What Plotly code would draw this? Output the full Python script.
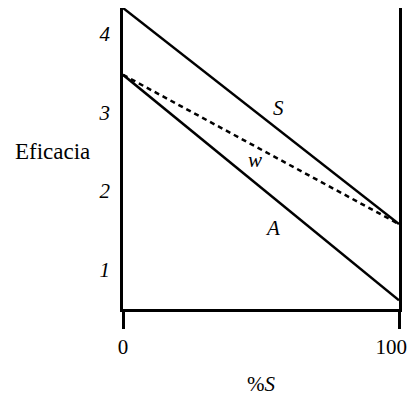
import plotly.graph_objects as go

x_pct = [0, 100]
S_vals = [4.33, 1.58]
A_vals = [3.48, 0.61]
w_vals = [3.48, 1.58]
y_ticks = [1, 2, 3, 4]
y_ticktext = ["1", "2", "3", "4"]
x_ticks = [0, 100]
x_ticktext = ["0", "100"]
curve_labels = ["S", "w", "A"]
label_x = [56.5, 47.8, 54.3]
label_y = [3.06, 2.40, 1.53]

FONT = "Liberation Serif"
fig = go.Figure()
fig.add_trace(go.Scatter(x=x_pct, y=S_vals, mode="lines",
                         line=dict(color="black", width=2.5), showlegend=False))
fig.add_trace(go.Scatter(x=x_pct, y=A_vals, mode="lines",
                         line=dict(color="black", width=2.5), showlegend=False))
fig.add_trace(go.Scatter(x=x_pct, y=w_vals, mode="lines",
                         line=dict(color="black", width=2.5, dash="5px,4px"), showlegend=False))

for t, xx, yy in zip(curve_labels, label_x, label_y):
    fig.add_annotation(x=xx, y=yy, text=f"<i>{t}</i>", showarrow=False,
                       font=dict(family=FONT, size=21, color="black"))

fig.add_annotation(xref="paper", yref="paper", x=-0.257, y=0.5216,
                   xanchor="center", yanchor="middle",
                   text="Eficacia", showarrow=False,
                   font=dict(family=FONT, size=23, color="black"))

# pad the right-hand label so it stays inside the visible page edge
x_tick_display = [x_ticktext[0], x_ticktext[1] + "&nbsp;&nbsp;&nbsp;"]

fig.update_layout(
    width=411, height=388,
    margin=dict(l=115, r=20, t=0, b=87, autoexpand=False),
    plot_bgcolor="white", paper_bgcolor="white",
    font=dict(family=FONT, size=21, color="black"),
    xaxis=dict(range=[0, 100], showgrid=False, zeroline=False,
               showline=True, linecolor="black", linewidth=2.5,
               tickvals=x_ticks, ticktext=x_tick_display,
               ticks="outside", ticklen=17, tickwidth=2.5, tickcolor="black",
               ticklabeloverflow="allow",
               tickfont=dict(family=FONT, size=21, color="black"),
               title=dict(text="%<i>S</i>", standoff=22,
                          font=dict(family=FONT, size=21, color="black"))),
    yaxis=dict(range=[0.5, 4.33], showgrid=False, zeroline=False,
               showline=True, mirror=True, linecolor="black", linewidth=2.5,
               tickvals=y_ticks, ticktext=[f"<i>{t}</i>" for t in y_ticktext],
               ticks="outside", ticklen=6, tickcolor="white",
               tickfont=dict(family=FONT, size=21, color="black")),
)

fig.write_html("out.html")
